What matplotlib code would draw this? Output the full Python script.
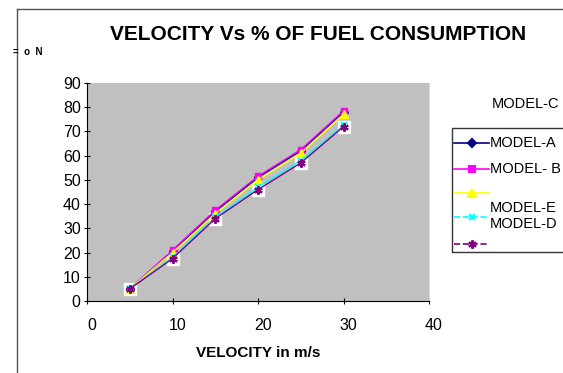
import matplotlib
matplotlib.use('Agg')
import matplotlib.pyplot as plt
import matplotlib.transforms as mtransforms
from matplotlib.lines import Line2D
from matplotlib.patches import Rectangle

plt.rcParams['font.family'] = ['Liberation Sans', 'DejaVu Sans']

velocity = [5, 10, 15, 20, 25, 30]
model_a = [5, 20.5, 37, 51, 62, 78]
model_b = [5, 21, 37.5, 51.5, 62.5, 78.5]
model_c = [5, 20, 36, 50, 61, 77]
model_e = [5, 18, 34.5, 47, 58, 72.5]
model_d = [5, 17.5, 34, 46, 57, 72]

xticks = [0, 10, 20, 30, 40]
yticks = [0, 10, 20, 30, 40, 50, 60, 70, 80, 90]

fig = plt.figure(figsize=(5.63, 3.73), dpi=100)
ax = fig.add_axes([87 / 563, 1 - 301 / 373, (429 - 87) / 563, (301 - 83) / 373])
ax.set_facecolor('#c0c0c0')

# white boxes behind the lower points
ax.plot(velocity, model_d, linestyle='none', marker='s', markersize=9,
        markerfacecolor='white', markeredgecolor='white', zorder=1)
ax.plot(velocity, model_a, color='#000080', marker='D', markersize=4, lw=1, zorder=2)
ax.plot(velocity, model_b, color='#ff00ff', marker='s', markersize=5, lw=1, zorder=2)
ax.plot(velocity, model_c, color='#ffff00', marker='^', markersize=6, lw=1, zorder=2)
ax.plot(velocity, model_e, color='#00ffff', marker='x', markersize=5, mew=1.5, lw=1, zorder=2)
ax.plot(velocity, model_d, color='#800080', marker=(6, 2, 0), markersize=6, mew=1.5, lw=1, zorder=3)

ax.set_xlim(0, 40)
ax.set_ylim(0, 90)
ax.set_xticks(xticks)
ax.set_yticks(yticks)
ax.tick_params(direction='inout', length=5, labelsize=11.5)
ax.tick_params(axis='x', pad=10)
ax.tick_params(axis='y', pad=2)
for lab in ax.get_xticklabels():
    lab.set_transform(lab.get_transform() + mtransforms.ScaledTranslation(0.05, 0, fig.dpi_scale_trans))
ax.spines['top'].set_visible(False)
ax.spines['right'].set_color('#d8d8d8')
ax.set_xlabel('VELOCITY in m/s', fontsize=11, fontweight='bold', labelpad=9)

fig.text(318 / 563, 1 - 35 / 373, 'VELOCITY Vs % OF FUEL CONSUMPTION',
         ha='center', va='center', fontsize=15, fontweight='bold')
fig.text(28 / 563, 1 - 52 / 373, '=  o  N', ha='center', va='center', fontsize=7, fontweight='bold')

# chart frame
fig.add_artist(Line2D([17 / 563, 17 / 563], [0, 1 - 9 / 373], color='#555555', lw=1))
fig.add_artist(Line2D([17 / 563, 1], [1 - 9 / 373, 1 - 9 / 373], color='#555555', lw=1))

# legend drawn by hand, it runs off the right edge
fig.add_artist(Rectangle((452 / 563, 1 - 252 / 373), 0.3, (252 - 128) / 373,
                         transform=fig.transFigure, facecolor='white', edgecolor='#333333', lw=1))
fig.text(492 / 563, 1 - 104 / 373, 'MODEL-C', ha='left', va='center', fontsize=10.5)
rows = [(143, '#000080', 'D', 4, 'MODEL-A', '-'),
        (169, '#ff00ff', 's', 5, 'MODEL- B', '-'),
        (193, '#ffff00', '^', 6, None, '-'),
        (217, '#00ffff', 'x', 5, None, '--'),
        (244, '#800080', (6, 2, 0), 6, None, '--')]
for y, col, mk, ms, label, ls in rows:
    yf = 1 - y / 373
    fig.add_artist(Line2D([454 / 563, 489 / 563], [yf, yf], color=col, lw=1.2, linestyle=ls))
    fig.add_artist(Line2D([471.5 / 563], [yf], color=col, marker=mk, markersize=ms, mew=1.5))
    if label:
        fig.text(490 / 563, yf, label, ha='left', va='center', fontsize=10.5)
fig.text(490 / 563, 1 - 208 / 373, 'MODEL-E', ha='left', va='center', fontsize=10.5)
fig.text(490 / 563, 1 - 224 / 373, 'MODEL-D', ha='left', va='center', fontsize=10.5)

fig.savefig('out.png', dpi=100)
